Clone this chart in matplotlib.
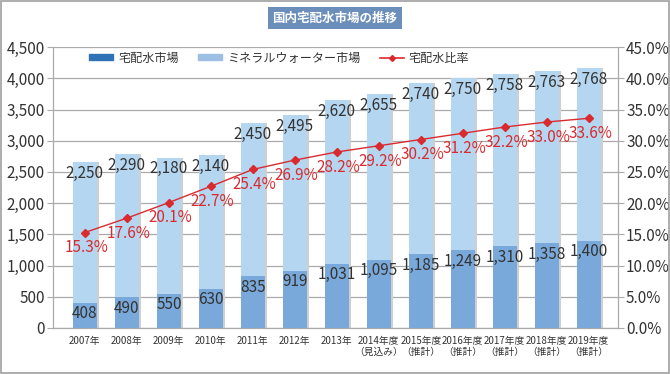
import numpy as np
import matplotlib.pyplot as plt
from matplotlib.patches import Rectangle
from matplotlib.lines import Line2D
import matplotlib.transforms as mtransforms

plt.rcParams['font.family'] = ['Noto Sans CJK JP', 'DejaVu Sans']

# data
years = ['2007年', '2008年', '2009年', '2010年', '2011年', '2012年', '2013年',
         '2014年度\n（見込み）', '2015年度\n（推計）', '2016年度\n（推計）',
         '2017年度\n（推計）', '2018年度\n（推計）', '2019年度\n（推計）']
takuhai = [408, 490, 550, 630, 835, 919, 1031, 1095, 1185, 1249, 1310, 1358, 1400]
mineral = [2250, 2290, 2180, 2140, 2450, 2495, 2620, 2655, 2740, 2750, 2758, 2763, 2768]
ratio = [15.3, 17.6, 20.1, 22.7, 25.4, 26.9, 28.2, 29.2, 30.2, 31.2, 32.2, 33.0, 33.6]

c_dark = '#79a9da'
c_light = '#b5d6f1'
c_red = '#d92b2f'
c_text = '#333333'
c_grid = '#aaaaaa'

fig = plt.figure(figsize=(6.7, 3.74), dpi=100)
ax = fig.add_axes([0.079, 0.123, 0.843, 0.751])
ax2 = ax.twinx()

x = np.arange(len(years))
w = 0.57
tot = np.array(takuhai) + np.array(mineral)

# shadow
shadow = mtransforms.offset_copy(ax.transData, fig=fig, x=2.5, y=0, units='dots')
ax.bar(x, tot, w, color='#cfcfcf', transform=shadow, zorder=2)
ax.bar(x, takuhai, w, color=c_dark, zorder=3)
ax.bar(x, mineral, w, bottom=takuhai, color=c_light, zorder=3)

for xi, b, m in zip(x, takuhai, mineral):
    ax.annotate(f'{b:,}', (xi, b), xytext=(0, -2), textcoords='offset points',
                ha='center', va='top', fontsize=11, color=c_text, zorder=5)
    ax.annotate(f'{m:,}', (xi, b + m), xytext=(0, -2), textcoords='offset points',
                ha='center', va='top', fontsize=11, color=c_text, zorder=5)

ax.set_ylim(0, 4500)
ax.set_yticks(np.arange(0, 4501, 500))
ax.set_yticklabels([f'{v:,}' for v in range(0, 4501, 500)], fontsize=11, color=c_text)
ax.set_xlim(-0.76, 12.69)
ax.set_xticks(x)
ax.set_xticklabels(years, fontsize=7, color=c_text, linespacing=1.05)
ax.tick_params(axis='x', length=0, pad=6)
ax.tick_params(axis='y', length=4, color=c_grid, pad=2, direction='out')
ax.grid(axis='y', color=c_grid, linewidth=0.9, zorder=0)
ax.set_axisbelow(True)
for s in ['top']:
    ax.spines[s].set_visible(False)
    ax2.spines[s].set_visible(False)
for s in ['left', 'bottom', 'right']:
    ax.spines[s].set_color(c_grid)
    ax2.spines[s].set_color(c_grid)

ax2.plot(x, ratio, color=c_red, linewidth=1.0, marker='D', markersize=4, zorder=6)
for xi, r in zip(x, ratio):
    ax2.annotate(f'{r:.1f}%', (xi, r), xytext=(1, -5), textcoords='offset points',
                 ha='center', va='top', fontsize=11, color=c_red, zorder=7)
ax2.set_ylim(0, 45)
ax2.set_yticks(np.arange(0, 46, 5))
ax2.set_yticklabels([f'{v:.1f}%' for v in range(0, 46, 5)], fontsize=11, color=c_text)
ax2.tick_params(axis='y', length=4, color=c_grid, pad=2, direction='out')

handles = [Rectangle((0, 0), 1, 1, color='#2f72b6'),
           Rectangle((0, 0), 1, 1, color='#9dbfe3'),
           Line2D([], [], color=c_red, marker='D', markersize=3, linewidth=1.2)]
leg = fig.legend(handles, ['宅配水市場', 'ミネラルウォーター市場', '宅配水比率'],
                 loc='center left', bbox_to_anchor=(89 / 670, 1 - 58 / 374), ncol=3,
                 frameon=False, fontsize=8.7, handlelength=2.0, handleheight=0.45,
                 columnspacing=1.6, handletextpad=0.4, borderpad=0, borderaxespad=0)
for t in leg.get_texts():
    t.set_color(c_text)

# title box
fig.text(0.5, 0.952, '国内宅配水市場の推移', ha='center', va='center', fontsize=9,
         color='white', weight='bold',
         bbox=dict(boxstyle='square,pad=0.35', facecolor='#6b8fba', edgecolor='none'))

# border
fig.patches.append(Rectangle((0.001, 0.002), 0.997, 0.995, transform=fig.transFigure,
                             fill=False, edgecolor='#a0a0a0', linewidth=1.2))

fig.savefig('out.png', dpi=100)
